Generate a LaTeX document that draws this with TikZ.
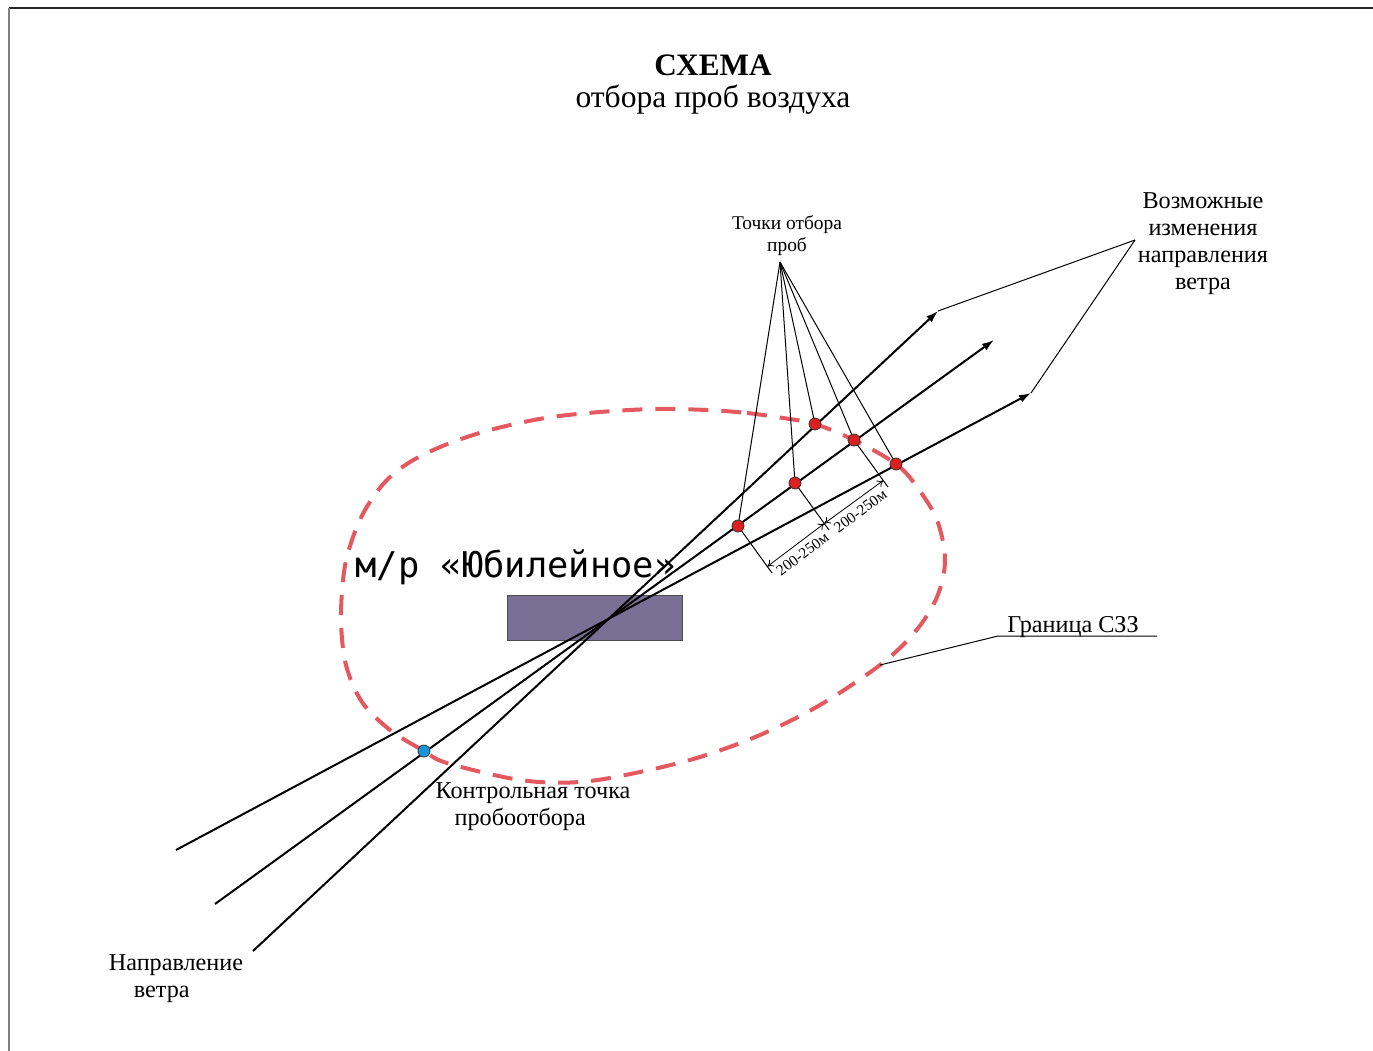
\documentclass[tikz,border=0pt]{standalone}
\usepackage{fontspec}
\setmainfont{Liberation Serif}
\newfontfamily\monofnt{DejaVu Sans Mono}
\usetikzlibrary{arrows.meta,calc}
\definecolor{szz}{RGB}{228,88,96}
\definecolor{bldg}{RGB}{121,112,150}
\definecolor{rdotc}{RGB}{220,32,32}
\definecolor{bdotc}{RGB}{22,150,220}
\tikzset{
  wind/.style={line width=1pt,-{Latex[length=6pt,width=4pt]}},
  thinline/.style={line width=0.5pt},
  boundary/.style={draw=szz,line width=2pt,dash pattern=on 10pt off 6.5pt},
  rdot/.style={circle,draw=black!80,line width=0.4pt,fill=rdotc,minimum size=6pt,inner sep=0pt},
  bdot/.style={circle,draw=black!80,line width=0.4pt,fill=bdotc,minimum size=6pt,inner sep=0pt},
  dimarr/.style={line width=0.4pt,{To[length=3pt,width=4pt]}-{To[length=3pt,width=4pt]}},
  dimlbl/.style={font=\fontsize{7.7}{8}\selectfont,sloped,below,inner sep=2.8pt},
  lbl/.style={font=\fontsize{12.1}{13.6}\selectfont,inner sep=0pt},
}
\begin{document}
\begin{tikzpicture}[x=0.5pt,y=-0.5pt]
\useasboundingbox (0,0) rectangle (1373,1051);
% frame
\coordinate (fc) at (9,8);
\coordinate (fr) at (1373,8);
\coordinate (fb) at (9,1051);
\draw[line width=0.8pt,black!85] (fc) -- (fr);
\draw[line width=1pt,black!50] (fc) -- (fb);
% title
\node[font=\fontsize{15.6}{18}\selectfont\bfseries,inner sep=0pt] (t1) at (713,65) {СХЕМА};
\node[font=\fontsize{15.8}{18}\selectfont,inner sep=0pt] (t2) at (713,100) {отбора проб воздуха};
% building
\node[draw=black!70,line width=0.5pt,fill=bldg,minimum width=87.5pt,minimum height=22.5pt,inner sep=0pt] (bld) at (594.5,617.5) {};
% label of district
\node[font=\monofnt\fontsize{17.7}{20}\selectfont,inner sep=0pt] (mr) at (515.5,567) {м/р «Юбилейное»};
% boundary
\draw[boundary] plot[smooth cycle,tension=0.55] coordinates {
 (707,410) (747,413) (783,418) (815,424) (854,440) (896,464) (917,487) (937,520) (945,560) (937,597)
 (915,632) (880,665) (820,705) (760,735) (700,757) (640,772) (580,782) (520,780) (447,763) (424,751)
 (390,730) (362,702) (346,665) (341,620) (344,572) (352,540) (365,510) (385,482) (410,462) (445,445)
 (490,430) (545,418) (600,412) (655,409)};
% wind lines
\coordinate (s1) at (253,951); \coordinate (e1) at (938,311);
\coordinate (s2) at (215,904); \coordinate (e2) at (994,340);
\coordinate (s3) at (176,850); \coordinate (e3) at (1031,393);
\draw[wind] (s1) -- (e1);
\draw[wind] (s2) -- (e2);
\draw[wind] (s3) -- (e3);
% sample points
\coordinate (pa) at (815,424);
\coordinate (q1) at (738,526);
\coordinate (q2) at (795,483);
\coordinate (q3) at (854,440);
\coordinate (pb) at (896,464);
\coordinate (kp) at (424,751);
% pointer lines
\coordinate (apex) at (780,262);
\draw[thinline] (apex) -- (q1);
\draw[thinline] (apex) -- (q2);
\draw[thinline] (apex) -- (pa);
\draw[thinline] (apex) -- (q3);
\draw[thinline] (apex) -- (pb);
% dimension
\draw[thinline] (q1) -- ($(q1)+(34,47)$);
\draw[thinline] (q2) -- ($(q2)+(34,47)$);
\draw[thinline] (q3) -- ($(q3)+(34,47)$);
\draw[dimarr] ($(q1)+(29.3,40.5)$) -- node[dimlbl] (dl1) {200-250м} ($(q2)+(29.3,40.5)$);
\draw[dimarr] ($(q2)+(29.3,40.5)$) -- node[dimlbl] (dl2) {200-250м} ($(q3)+(29.3,40.5)$);
% dots
\node[rdot] (d1) at (pa) {};
\node[rdot] (d2) at (q1) {};
\node[rdot] (d3) at (q2) {};
\node[rdot] (d4) at (q3) {};
\node[rdot] (d5) at (pb) {};
\node[bdot] (d6) at (kp) {};
% labels
\node[font=\fontsize{9.7}{11}\selectfont,align=center,inner sep=0pt] (tp) at (787,236) {Точки отбора\\проб};
\node[lbl,align=center] (vw) at (1203,243.5) {Возможные\\изменения\\направления\\ветра};
\coordinate (va) at (1135,240);
\draw[thinline] (va) -- (e1);
\draw[thinline] (va) -- (e3);
\node[lbl,align=left] (kt) at (533,807) {Контрольная точка\\\hspace{9.5pt}пробоотбора};
\node[lbl,align=left] (nv) at (176,979) {Направление\\\hspace{12.5pt}ветра};
% SZZ leader
\coordinate (g0) at (880,665);
\coordinate (g1) at (998,636);
\coordinate (g2) at (1157,636);
\draw[thinline] (g0) -- (g1) -- (g2);
\node[lbl,anchor=base west] (gr) at (1007,632) {Граница СЗЗ};
\end{tikzpicture}
\end{document}
